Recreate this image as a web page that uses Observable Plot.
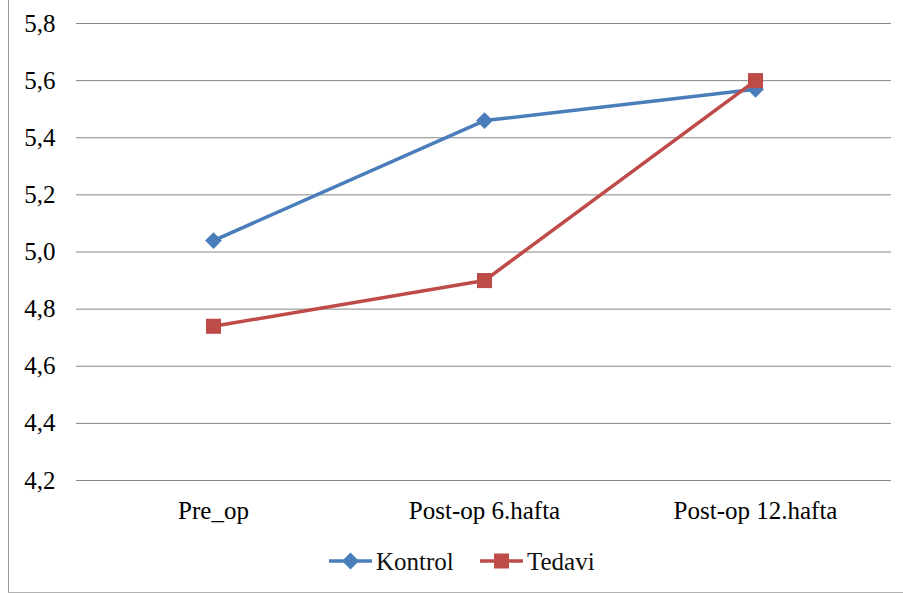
<!DOCTYPE html>
<html>
<head>
<meta charset="utf-8">
<script src="https://cdn.jsdelivr.net/npm/d3@7"></script>
<script src="https://cdn.jsdelivr.net/npm/@observablehq/plot@0.6"></script>
</head>
<body style="margin:0;background:#fff">
<div id="frame" style="position:absolute;left:8px;top:0;width:900px;height:592px;border-left:1px solid #9a9a9a;border-bottom:1px solid #b4b4b4">
  <div id="chart" style="position:absolute;left:0;top:0"></div>
  <svg id="legend" width="894" height="62" style="position:absolute;left:0;top:530px">
    <g transform="translate(320,31)">
      <line x1="0" x2="43" y1="0" y2="0" stroke="#4a7ebb" stroke-width="3.5"></line>
      <polygon points="21.5,-8.5 30,0 21.5,8.5 13,0" fill="#4a7ebb"></polygon>
      <text x="47" y="9" font-size="25" font-family="Liberation Serif" fill="#111">Kontrol</text>
    </g>
    <g transform="translate(471,31)">
      <line x1="0" x2="43" y1="0" y2="0" stroke="#be4b48" stroke-width="3.5"></line>
      <rect x="14" y="-7.5" width="15" height="15" fill="#be4b48"></rect>
      <text x="47" y="9" font-size="25" font-family="Liberation Serif" fill="#111">Tedavi</text>
    </g>
  </svg>
</div>
<script>
// Measurement time points
const categories = ["Pre_op", "Post-op 6.hafta", "Post-op 12.hafta"];
// Mean values per group
const kontrol = [5.04, 5.46, 5.57];
const tedavi = [4.74, 4.90, 5.60];
// Y axis ticks
const yTicks = [4.2, 4.4, 4.6, 4.8, 5.0, 5.2, 5.4, 5.6, 5.8];

const seriesColors = ["#4a7ebb", "#be4b48"];

const rows = [];
categories.forEach((c, i) => {
  rows.push({series: "Kontrol", time: c, value: kontrol[i]});
  rows.push({series: "Tedavi", time: c, value: tedavi[i]});
});

const fmt = d => d.toFixed(1).replace(".", ",");

const chart = Plot.plot({
  width: 894,
  height: 540,
  marginLeft: 67,
  marginRight: 12,
  marginTop: 23,
  marginBottom: 60,
  style: {fontFamily: "Liberation Serif", fontSize: "25px"},
  x: {type: "point", domain: categories, padding: 0.5, label: null},
  y: {domain: [4.2, 5.8], label: null},
  marks: [
    Plot.gridY(yTicks, {stroke: "#868686", strokeOpacity: 1, strokeWidth: 1}),
    Plot.axisY(yTicks, {tickSize: 0, tickPadding: 21, tickFormat: fmt, fontSize: 25, label: null}),
    Plot.axisX({tickSize: 0, tickPadding: 21, fontSize: 25, label: null}),
    Plot.line(rows.filter(d => d.series === "Kontrol"), {x: "time", y: "value", stroke: seriesColors[0], strokeWidth: 3.5}),
    Plot.dot(rows.filter(d => d.series === "Kontrol"), {x: "time", y: "value", symbol: "diamond2", r: 7.6, fill: seriesColors[0], stroke: null}),
    Plot.line(rows.filter(d => d.series === "Tedavi"), {x: "time", y: "value", stroke: seriesColors[1], strokeWidth: 3.5}),
    Plot.dot(rows.filter(d => d.series === "Tedavi"), {x: "time", y: "value", symbol: "square", r: 8.5, fill: seriesColors[1], stroke: null})
  ]
});
chart.style.background = "transparent";
document.getElementById("chart").appendChild(chart);
</script>
</body>
</html>
